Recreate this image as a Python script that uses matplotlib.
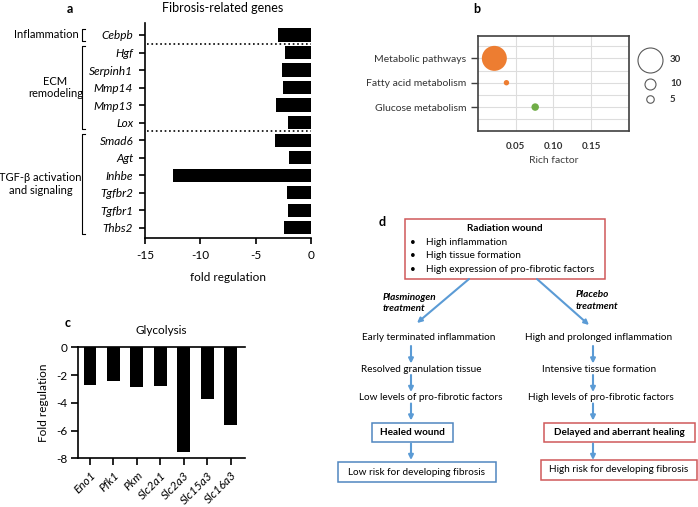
import matplotlib
matplotlib.use("Agg")
import matplotlib.pyplot as plt
from matplotlib.patches import Rectangle
import numpy as np

plt.rcParams['font.family'] = ['Lato', 'DejaVu Sans']
plt.rcParams['axes.unicode_minus'] = False

# panel a - fibrosis related genes
fib_genes = ["Cebpb", "Hgf", "Serpinh1", "Mmp14", "Mmp13", "Lox",
             "Smad6", "Agt", "Inhbe", "Tgfbr2", "Tgfbr1", "Thbs2"]
fib_fold = [-2.95, -2.35, -2.65, -2.55, -3.15, -2.05,
            -3.25, -1.95, -12.5, -2.15, -2.1, -2.45]
fib_groups = ["Inflammation", "ECM\nremodeling", "TGF-β activation\nand signaling"]
fib_group_rows = [(0, 0), (1, 5), (6, 11)]

# panel b - enrichment bubbles
path_names = ["Metabolic pathways", "Fatty acid metabolism", "Glucose metabolism"]
path_rich = [0.022, 0.038, 0.076]
path_count = [30, 2, 5]
path_colors = ["#ED7D31", "#ED7D31", "#70AD47"]
legend_counts = [30, 10, 5]

# panel c - glycolysis
gly_genes = ["Eno1", "Pfk1", "Pkm", "Slc2a1", "Slc2a3", "Slc15a3", "Slc16a3"]
gly_fold = [-2.7, -2.45, -2.85, -2.8, -7.55, -3.7, -5.6]

# panel d - flow chart texts
d_title = "Radiation wound"
d_bullets = ["High inflammation", "High tissue formation",
             "High expression of pro-fibrotic factors"]
d_branch = ["Plasminogen\ntreatment", "Placebo\ntreatment"]
d_left_steps = ["Early terminated inflammation", "Resolved granulation tissue",
                "Low levels of pro-fibrotic factors"]
d_right_steps = ["High and prolonged inflammation", "Intensive tissue formation",
                 "High levels of pro-fibrotic factors"]
d_left_out = ["Healed wound", "Low risk for developing fibrosis"]
d_right_out = ["Delayed and aberrant healing", "High risk for developing fibrosis"]

W, H = 698, 507
fig = plt.figure(figsize=(W / 100, H / 100), dpi=100)


def px_axes(l, t, r, b):
    return fig.add_axes([l / W, 1 - b / H, (r - l) / W, (b - t) / H])


def bubble(n):
    d = 4 + 0.7 * n  # diameter in pixels
    return (d * 0.72) ** 2


ov = px_axes(0, 0, W, H)
ov.set_xlim(0, W)
ov.set_ylim(H, 0)
ov.axis('off')

# ---------- a ----------
ax = px_axes(145, 23, 311, 238)
ya = np.arange(len(fib_genes))
ax.barh(ya, fib_fold, height=0.75, color='black')
ax.set_xlim(-15, 0)
ax.set_ylim(11.59, -0.685)
ax.set_yticks(ya)
ax.set_yticklabels(fib_genes, style='italic', fontsize=8.5)
ax.set_xticks([-15, -10, -5, 0])
ax.tick_params(labelsize=8.5, width=1.2, length=4.5, pad=4)
for s in ['top', 'right']:
    ax.spines[s].set_visible(False)
for s in ['left', 'bottom']:
    ax.spines[s].set_linewidth(1.2)
ax.set_xlabel('fold regulation', fontsize=8.5, labelpad=8)
for yy in [0.5, 5.5]:
    ax.plot([-14.8, 0], [yy, yy], ls=':', color='black', lw=1.2)

tr = ax.get_yaxis_transform()
bx0 = -0.38
for (r0, r1), name in zip(fib_group_rows, fib_groups):
    top, bot = r0 - 0.35, r1 + 0.35
    ax.plot([bx0 + 0.02, bx0, bx0, bx0 + 0.02], [top, top, bot, bot],
            color='black', lw=0.8, transform=tr, clip_on=False)
    mid = (r0 + r1) / 2
    if r0 == r1:
        ax.text(bx0 - 0.02, mid, name, ha='right', va='center', fontsize=8,
                transform=tr)
    else:
        cx_ = -0.54 if r1 == 5 else -0.63
        ax.text(cx_, mid, name, ha='center', va='center', fontsize=8,
                multialignment='center', transform=tr)

ov.text(70, 9, 'a', fontsize=9, fontweight='bold', ha='center', va='center')
ov.text(223, 8, 'Fibrosis-related genes', fontsize=9, ha='center', va='center')

# ---------- b ----------
bx = px_axes(477.7, 35.7, 629, 130.7)
yb = np.arange(len(path_names))
bx.scatter(path_rich, yb, s=[bubble(n) for n in path_count], c=path_colors,
           linewidths=0, zorder=3)
bx.set_xlim(0, 0.2)
bx.set_ylim(2.97, -0.93)
bx.set_xticks([0.05, 0.10, 0.15])
bx.set_xticklabels(['0.05', '0.10', '0.15'], fontweight='bold', fontsize=7)
bx.set_yticks(yb)
bx.set_yticklabels(path_names, fontsize=7.5, color='#333333')
bx.set_yticks([-0.5, 0.5, 1.5, 2.5], minor=True)
bx.grid(True, which='both', color='#dddddd', lw=0.8)
bx.set_axisbelow(True)
bx.tick_params(axis='x', length=0, pad=8, colors='#333333')
bx.tick_params(axis='y', which='major', length=5, width=1, color='#404040', pad=3)
bx.tick_params(axis='y', which='minor', length=0)
for s in bx.spines.values():
    s.set_color('#404040')
    s.set_linewidth(1.2)
bx.set_xlabel('Rich factor', fontsize=7.5, color='#404040', labelpad=4)

for n, yy in zip(legend_counts, [60, 84, 99]):
    ov.scatter(650, yy, s=bubble(n), facecolor='white', edgecolor='#595959', lw=0.8)
    ov.text(670, yy, str(n), fontsize=7, fontweight='bold', va='center', color='#333333')
ov.text(477, 9, 'b', fontsize=9, fontweight='bold', ha='center', va='center')

# ---------- c ----------
cx = px_axes(78.3, 347.3, 245, 458.3)
xc = np.arange(len(gly_genes))
cx.bar(xc, gly_fold, width=0.55, color='black')
cx.set_xlim(-0.5, 6.61)
cx.set_ylim(-8, 0)
cx.set_yticks([0, -2, -4, -6, -8])
cx.set_xticks(xc)
cx.set_xticklabels(gly_genes, rotation=45, ha='right', rotation_mode='anchor',
                   style='italic', fontsize=8.5)
cx.tick_params(labelsize=8.5, width=1.2, length=5, pad=3)
cx.spines['right'].set_visible(False)
for s in ['left', 'bottom', 'top']:
    cx.spines[s].set_linewidth(1.2)
cx.set_ylabel('Fold regulation', fontsize=8.5, labelpad=5)
ov.text(68, 323, 'c', fontsize=9, fontweight='bold', ha='center', va='center')
ov.text(161, 331, 'Glycolysis', fontsize=8.5, ha='center', va='center')

# ---------- d ----------
red = '#D0585A'
blue = '#4F86C0'
arr = '#5B9BD5'
fs = 7.2


def box(x0, y0, x1, y1, col):
    ov.add_patch(Rectangle((x0, y0), x1 - x0, y1 - y0, fill=False,
                           edgecolor=col, lw=1.1))


def arrow(x0, y0, x1, y1):
    ov.annotate('', xy=(x1, y1), xytext=(x0, y0),
                arrowprops=dict(arrowstyle='-|>', color=arr, lw=1.5,
                                mutation_scale=7, shrinkA=0, shrinkB=0))


ov.text(382, 222, 'd', fontsize=9, fontweight='bold', ha='center', va='center')
box(405, 219, 605, 279, red)
ov.text(505, 228.5, d_title, fontsize=fs, fontweight='bold', ha='center', va='center')
for i, t in enumerate(d_bullets):
    yy = 242.7 + 13.2 * i
    ov.text(413, yy, '•', fontsize=fs, ha='center', va='center')
    ov.text(425.7, yy, t, fontsize=fs, ha='left', va='center')

arrow(469, 279, 417, 323)
arrow(537, 279, 589, 325)
ov.text(383, 303, d_branch[0], fontsize=fs, fontweight='bold', style='italic',
        ha='left', va='center', linespacing=1.3)
ov.text(575.7, 300.5, d_branch[1], fontsize=fs, fontweight='bold', style='italic',
        ha='left', va='center', linespacing=1.3)

left_x = [429, 421.3, 431]
right_x = [599, 598.7, 601.3]
step_y = [337.7, 369.3, 397.5]
for i in range(3):
    ov.text(left_x[i], step_y[i], d_left_steps[i], fontsize=fs, ha='center', va='center')
    ov.text(right_x[i], step_y[i], d_right_steps[i], fontsize=fs, ha='center', va='center')
for y0, y1 in [(346, 363.5), (375, 392), (403.5, 420.5), (443.5, 460)]:
    arrow(411, y0, 411, y1)
    arrow(593, y0, 593, y1)

box(372.3, 422.7, 453.3, 442.3, blue)
ov.text(412.8, 432.7, d_left_out[0], fontsize=fs, fontweight='bold', ha='center', va='center')
box(338.3, 461.7, 495.7, 482.3, blue)
ov.text(417, 472.2, d_left_out[1], fontsize=fs, ha='center', va='center')

box(544, 422.7, 695, 442.3, red)
ov.text(619, 432.7, d_right_out[0], fontsize=fs, fontweight='bold', ha='center', va='center')
box(540.7, 460, 697, 480, red)
ov.text(618.5, 470, d_right_out[1], fontsize=fs, ha='center', va='center')

fig.savefig('out.png', dpi=100)
